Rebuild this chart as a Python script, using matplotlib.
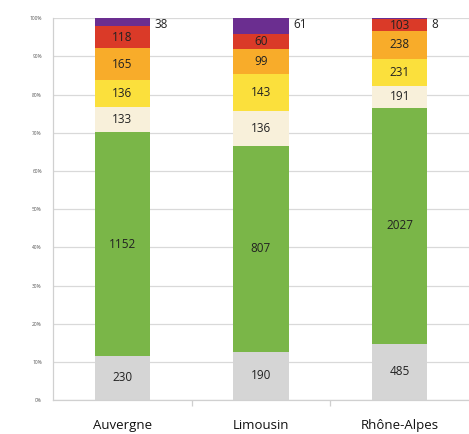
import numpy as np
import matplotlib
matplotlib.use("Agg")
import matplotlib.pyplot as plt
from matplotlib.ticker import FuncFormatter, FixedLocator

regions = ["Auvergne", "Limousin", "Rhône-Alpes"]
# counts per class, bottom to top of the stack
grey = [230, 190, 485]
green = [1152, 807, 2027]
cream = [133, 136, 191]
yellow = [136, 143, 231]
orange = [165, 99, 238]
red = [118, 60, 103]
purple = [38, 61, 8]

series = [grey, green, cream, yellow, orange, red, purple]
colors = ["#d5d5d5", "#7ab648", "#f8f0da", "#fbe03c", "#f8ac2a", "#da3a28", "#6b2e90"]

plt.rcParams["font.family"] = ["Open Sans", "DejaVu Sans"]

fig = plt.figure(figsize=(4.69, 4.34), dpi=100)
ax = fig.add_axes([0.113, 0.078, 0.887, 0.880])

counts = np.array(series, dtype=float)
totals = counts.sum(axis=0)
shares = counts / totals * 100
x = np.arange(len(regions))
width = 0.40

bottom = np.zeros(len(regions))
for i, (vals, share, col) in enumerate(zip(counts, shares, colors)):
    ax.bar(x, share, width, bottom=bottom, color=col, zorder=2)
    for j in range(len(regions)):
        yc = bottom[j] + share[j] / 2
        if i == len(series) - 1:
            # thin top segment: value written beside the bar
            ax.text(x[j] + width / 2 + 0.03, 100, f"{int(vals[j])}", ha="left", va="top",
                    fontsize=8.5, color="#222222")
        else:
            ax.text(x[j], yc, f"{int(vals[j])}", ha="center", va="center",
                    fontsize=8.5, color="#222222", zorder=3)
    bottom += share

ax.set_xlim(-0.5, 2.5)
ax.set_ylim(0, 100)
ax.yaxis.set_major_locator(FixedLocator(np.arange(0, 101, 10)))
ax.yaxis.set_major_formatter(FuncFormatter(lambda v, _: f"{int(v)}%"))
ax.grid(axis="y", color="#d9d9d9", lw=0.9, zorder=0)
ax.tick_params(axis="y", length=0, labelsize=3.5, labelcolor="#555555", pad=8)

ax.set_xticks([0.5, 1.5], minor=False)
ax.set_xticklabels([])
ax.tick_params(axis="x", length=4, color="#cfcfcf", width=0.9)
for xi, name in zip(x, regions):
    ax.annotate(name, (xi, 0), xytext=(0, -18.5), textcoords="offset points",
                ha="center", va="center", fontsize=9.5, color="#111111",
                annotation_clip=False)

for s in ["top", "right"]:
    ax.spines[s].set_visible(False)
ax.spines["left"].set_color("#d0d0d0")
ax.spines["bottom"].set_color("#d0d0d0")
ax.spines["left"].set_linewidth(0.9)
ax.spines["bottom"].set_linewidth(0.9)

fig.savefig("out.png", dpi=100)
